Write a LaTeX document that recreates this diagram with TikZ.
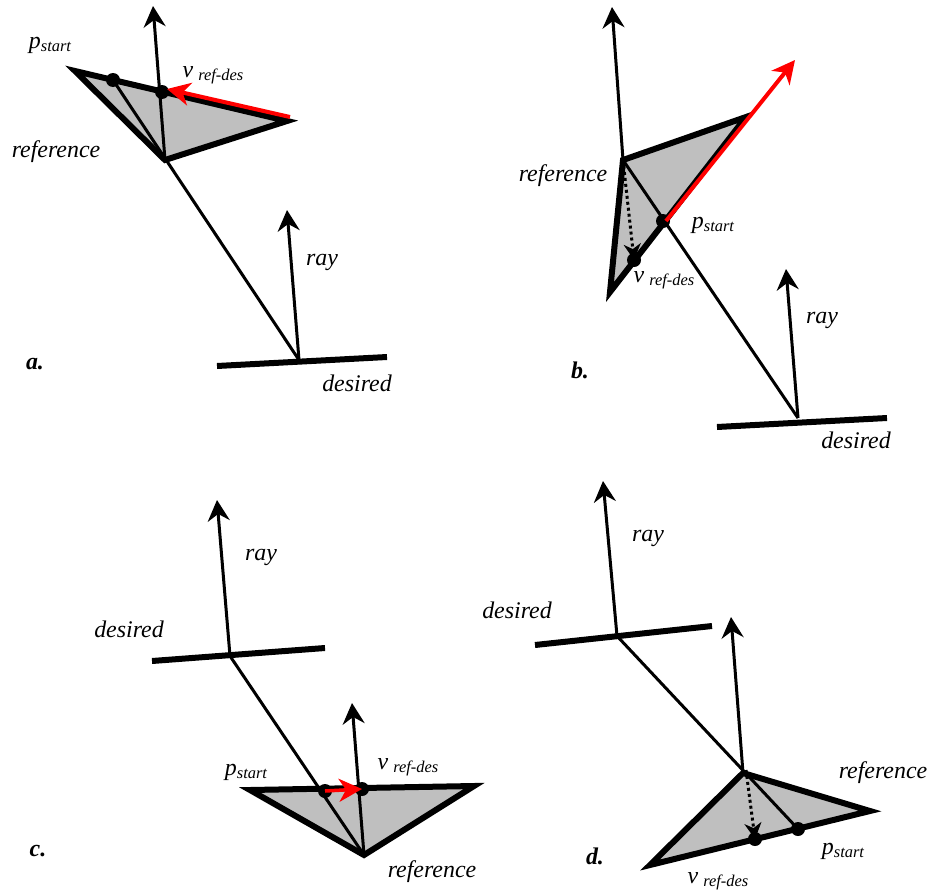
\documentclass[tikz,border=0pt]{standalone}
\usepackage{fontspec}
\setmainfont{Liberation Serif}
\usetikzlibrary{arrows.meta}
\newcommand\pstartlbl{\textit{p}\raisebox{-3bp}{\fontsize{16.5}{18}\selectfont\itshape start}}
\newcommand\vrefdeslbl{\textit{v}\hspace{5bp}\raisebox{-3bp}{\fontsize{16.5}{18}\selectfont\itshape ref-des}}
\tikzset{
  lbl/.style={inner sep=0pt,font=\fontsize{24}{28}\selectfont\itshape},
  panellbl/.style={inner sep=0pt,font=\fontsize{24}{28}\selectfont\bfseries\itshape},
  thinline/.style={line width=3bp},
  arr/.style={thinline,-{Stealth[length=21bp,width=22bp,inset=7bp]}},
  redarr/.style={draw=red,line width=4bp,-{Stealth[length=23bp,width=23bp,inset=7bp]}},
  dotarr/.style={line width=3bp,dash pattern=on 3bp off 3bp,-{Stealth[length=16bp,width=17bp,inset=5bp]}},
  surf/.style={line width=6bp},
  tri/.style={draw,fill=black!25,line width=6bp,line join=miter,miter limit=20},
  dot/.style={circle,fill=black,inner sep=0pt,minimum size=14bp},
}
\begin{document}
\begin{tikzpicture}[x=1bp,y=-1bp]
\useasboundingbox (0,0) rectangle (931,892);
% ---------------- panel a
\coordinate (a1) at (75,71);
\coordinate (a2) at (287,121);
\coordinate (a3) at (165,160);
\coordinate (atop) at (153,6);
\coordinate (adc) at (299,360);
\coordinate (adl) at (217,366);
\coordinate (adr) at (387,357);
\coordinate (aray) at (287,210);
\coordinate (ared1) at (290,117);
\coordinate (ared2) at (167,89);
\draw[tri] (a1) -- (a2) -- (a3) -- cycle;
\node[dot] (ap) at (113,80) {};
\node[dot] (av) at (162,92) {};
\draw[thinline] (ap.center) -- (adc);
\draw[arr] (a3) -- (atop);
\draw[surf] (adl) -- (adr);
\draw[arr] (adc) -- (aray);
\draw[redarr] (ared1) -- (ared2);
\node[lbl] at (50,45) {\pstartlbl};
\node[lbl] at (213,75) {\vrefdeslbl};
\node[lbl] at (56,152) {reference};
\node[lbl] at (322,262) {ray};
\node[lbl] at (357,383) {desired};
\node[panellbl] at (35,364) {a.};
% ---------------- panel b
\coordinate (b1) at (623,160);
\coordinate (b2) at (746,117);
\coordinate (b3) at (610,292);
\coordinate (btop) at (612,7);
\coordinate (bdc) at (798,418);
\coordinate (bdl) at (717,427);
\coordinate (bdr) at (887,418);
\coordinate (bray) at (786,269);
\coordinate (bred) at (795,60);
\draw[tri] (b1) -- (b2) -- (b3) -- cycle;
\node[dot] (bp) at (663,221) {};
\node[dot] (bv) at (634,260) {};
\draw[thinline] (b1) -- (bdc);
\draw[arr] (b1) -- (btop);
\draw[dotarr] (b1) -- (bv.center);
\draw[redarr] ([xshift=3bp]bp.center) -- (bred);
\draw[surf] (bdl) -- (bdr);
\draw[arr] (bdc) -- (bray);
\node[lbl] at (563,176) {reference};
\node[lbl] at (713,225) {\pstartlbl};
\node[lbl] at (664,280) {\vrefdeslbl};
\node[lbl] at (822,320) {ray};
\node[lbl] at (856,440) {desired};
\node[panellbl] at (580,370) {b.};
% ---------------- panel c
\coordinate (c1) at (250,790);
\coordinate (c2) at (474,786);
\coordinate (c3) at (364,855);
\coordinate (ctop) at (352,703);
\coordinate (cdc) at (230,656);
\coordinate (cdl) at (152,661);
\coordinate (cdr) at (325,648);
\coordinate (cray) at (217,500);
\draw[tri] (c1) -- (c2) -- (c3) -- cycle;
\draw[thinline] (cdc) -- (c3);
\draw[arr] (c3) -- (ctop);
\node[dot] (cp) at (325,791) {};
\node[dot] (cv) at (362,789) {};
\draw[redarr,line width=3.5bp] (cp.center) -- (cv.center);
\draw[surf] (cdl) -- (cdr);
\draw[arr] (cdc) -- (cray);
\node[lbl] at (261,557) {ray};
\node[lbl] at (129,629) {desired};
\node[lbl] at (246,772) {\pstartlbl};
\node[lbl] at (408,767) {\vrefdeslbl};
\node[lbl] at (432,872) {reference};
\node[panellbl] at (38,851) {c.};
% ---------------- panel d
\coordinate (d1) at (743,773);
\coordinate (d2) at (870,811);
\coordinate (d3) at (650,865);
\coordinate (dtop) at (731,617);
\coordinate (ddc) at (617,636);
\coordinate (ddl) at (535,645);
\coordinate (ddr) at (712,626);
\coordinate (dray) at (603,481);
\draw[tri] (d1) -- (d2) -- (d3) -- cycle;
\node[dot] (dp) at (798,829) {};
\node[dot] (dv) at (755,839) {};
\draw[thinline] (ddc) -- (dp.center);
\draw[arr] (d1) -- (dtop);
\draw[dotarr] ([xshift=3bp,yshift=3bp]d1) -- (dv.center);
\draw[surf] (ddl) -- (ddr);
\draw[arr] (ddc) -- (dray);
\node[lbl] at (648,538) {ray};
\node[lbl] at (517,610) {desired};
\node[lbl] at (843,851) {\pstartlbl};
\node[lbl] at (718,881) {\vrefdeslbl};
\node[lbl] at (883,773) {reference};
\node[panellbl] at (595,856) {d.};
\end{tikzpicture}
\end{document}
